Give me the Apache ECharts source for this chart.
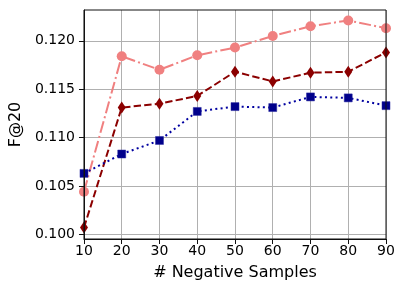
<!DOCTYPE html>
<html>
<head>
<meta charset="utf-8">
<script src="https://cdn.jsdelivr.net/npm/echarts@6/dist/echarts.min.js"></script>
<style>html,body{margin:0;padding:0;background:#fff}#c{width:404px;height:292px}</style>
</head>
<body>
<div id="c"></div>
<script>
const xValues = [10, 20, 30, 40, 50, 60, 70, 80, 90];
const yTicks = [0.100, 0.105, 0.110, 0.115, 0.120];
const seriesPink = [0.1044, 0.1184, 0.1170, 0.1185, 0.1193, 0.1205, 0.1215, 0.1221, 0.1213];
const seriesDarkRed = [0.1007, 0.1131, 0.1135, 0.1143, 0.1168, 0.1158, 0.1167, 0.1168, 0.1188];
const seriesNavy = [0.1063, 0.1083, 0.1097, 0.1127, 0.1132, 0.1131, 0.1142, 0.1141, 0.1133];

const G = {left: 80, right: 18, top: 10, bottom: 53};
const W = 404, H = 292;
const font = 'DejaVu Sans';
const YMIN = 0.09952, YMAX = 0.12318;

const chart = echarts.init(document.getElementById('c'), null, {renderer: 'canvas'});
const pair = arr => xValues.map((x, i) => [x, arr[i]]);

chart.setOption({
  animation: false,
  backgroundColor: '#fff',
  grid: {left: G.left, right: G.right, top: G.top, bottom: G.bottom, show: true,
         borderColor: '#111', borderWidth: 1, backgroundColor: 'transparent', zlevel: 2},
  xAxis: {
    type: 'value', min: 10, max: 90, interval: 10,
    name: '# Negative Samples', nameLocation: 'middle', nameGap: 26,
    nameTextStyle: {fontFamily: font, fontSize: 16, color: '#000'},
    axisLine: {show: true, lineStyle: {color: '#111', width: 1}},
    axisTick: {show: true, inside: false, length: 5, lineStyle: {color: '#111', width: 1}},
    axisLabel: {fontFamily: font, fontSize: 14, color: '#000', margin: 5},
    splitLine: {show: true, lineStyle: {color: '#b0b0b0', width: 1}}
  },
  yAxis: [{
    type: 'value', min: YMIN, max: YMAX,
    axisLine: {show: false}, axisTick: {show: false, customValues: yTicks},
    axisLabel: {show: false, customValues: yTicks},
    splitLine: {show: true, lineStyle: {color: '#b0b0b0', width: 1}}
  }, {
    type: 'value', min: YMIN, max: YMAX, position: 'left', zlevel: 2,
    name: 'F@20', nameLocation: 'middle', nameGap: 55,
    nameTextStyle: {fontFamily: font, fontSize: 16, color: '#000'},
    axisLine: {show: true, onZero: false, lineStyle: {color: '#111', width: 1}},
    axisTick: {show: true, length: 5, customValues: yTicks, lineStyle: {color: '#111', width: 1}},
    axisLabel: {fontFamily: font, fontSize: 14, color: '#000', margin: 9,
                customValues: yTicks, formatter: v => v.toFixed(3)},
    splitLine: {show: false}
  }],
  graphic: {
    zlevel: 1, z: 10,
    elements: [
      {type: 'rect', id: 'maskL', silent: true, x: G.left - 7, y: G.top + 0.5,
       shape: {x: 0, y: 0, width: 6.5, height: H - G.top - G.bottom - 1}, style: {fill: '#fff'}},
      {type: 'rect', id: 'maskR', silent: true, x: W - G.right + 0.5, y: G.top + 0.5,
       shape: {x: 0, y: 0, width: G.right, height: H - G.top - G.bottom - 1}, style: {fill: '#fff'}}
    ]
  },
  series: [
    {type: 'line', data: pair(seriesPink), yAxisIndex: 0, z: 2,
     symbol: 'circle', symbolSize: 10,
     itemStyle: {color: '#F08080'},
     lineStyle: {color: '#F08080', width: 2, type: [12, 3.2, 2, 3.2]}},
    {type: 'line', data: pair(seriesDarkRed), yAxisIndex: 0, z: 2,
     symbol: 'diamond', symbolSize: [8, 12],
     itemStyle: {color: '#8B0000'},
     lineStyle: {color: '#8B0000', width: 2, type: [7.4, 3.2]}},
    {type: 'line', data: pair(seriesNavy), yAxisIndex: 0, z: 2,
     symbol: 'rect', symbolSize: 8,
     itemStyle: {color: '#00008B', borderColor: '#2a2aa0', borderWidth: 0.5},
     lineStyle: {color: '#0000A0', width: 2, type: [2, 3.3]}}
  ]
});
</script>
</body>
</html>
